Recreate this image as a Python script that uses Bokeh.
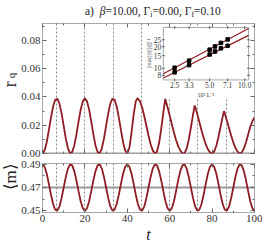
import math
from bokeh.plotting import figure
from bokeh.models import (Range1d, FixedTicker, PrintfTickFormatter, LinearAxis,
                          Div, LogScale, CustomJSTickFormatter)
from bokeh.core.properties import value
from bokeh.layouts import column, row
from bokeh.embed import file_html
from bokeh.resources import INLINE

# ---------------- data ----------------
title_html = ('a)&nbsp;&nbsp;<i>β</i>=10.00, Γ<span style="font-size:8px;vertical-align:-2px">i</span>'
              '=0.00, Γ<span style="font-size:8px;vertical-align:-2px">f</span>=0.10')

t_r = [0, 1, 2, 3, 4, 5, 6, 7, 8, 9, 10, 11, 12, 13, 14, 15, 16, 17, 18, 19, 20,
       21, 22, 23, 24, 25, 26, 27, 28, 29, 30, 31, 32, 33, 34, 35, 36, 37, 38, 39, 40,
       41, 42, 43, 44, 44.7, 45, 46, 47, 48, 49, 50, 51, 52, 53, 53.3,
       54, 55, 56, 57, 57.9, 58, 59, 60, 61, 62, 63, 64, 65, 66, 66.7,
       67, 68, 69, 70, 71, 71.8, 72, 73, 74, 75, 76, 77, 78, 79, 80,
       81, 82, 83, 84, 85, 85.6, 86, 87, 88, 89, 90, 91, 92, 93, 93.3,
       94, 95, 96, 97, 98, 99, 100]
r_q = [0.0, 0.0021, 0.0080, 0.0165, 0.0255, 0.0333, 0.0380, 0.0388, 0.0353, 0.0284, 0.0195,
       0.0106, 0.0037, 0.0002, 0.0010, 0.0057, 0.0135, 0.0225, 0.0310, 0.0369, 0.0390,
       0.0369, 0.0310, 0.0225, 0.0135, 0.0057, 0.0010, 0.0002, 0.0037, 0.0106, 0.0195,
       0.0284, 0.0353, 0.0388, 0.0380, 0.0333, 0.0255, 0.0165, 0.0080, 0.0021, 0.0,
       0.0042, 0.0150, 0.0277, 0.0369, 0.0390, 0.0389, 0.0369, 0.0325, 0.0265, 0.0196,
       0.0127, 0.0066, 0.0022, 0.0001, 0.0,
       0.0013, 0.0074, 0.0175, 0.0290, 0.0386, 0.0381, 0.0327, 0.0268, 0.0207, 0.0148,
       0.0096, 0.0052, 0.0021, 0.0003, 0.0,
       0.0002, 0.0034, 0.0098, 0.0184, 0.0274, 0.0340, 0.0330, 0.0279, 0.0222, 0.0165,
       0.0112, 0.0066, 0.0030, 0.0008, 0.0,
       0.0014, 0.0055, 0.0117, 0.0189, 0.0261, 0.0300, 0.0282, 0.0232, 0.0179, 0.0126,
       0.0079, 0.0040, 0.0013, 0.0001, 0.0,
       0.0008, 0.0035, 0.0080, 0.0135, 0.0188, 0.0228, 0.0255]

t_m = list(range(0, 101))
m_avg = [0.4900, 0.4878, 0.4818, 0.4731, 0.4638, 0.4559, 0.4510, 0.4502, 0.4538, 0.4609,
         0.4700, 0.4791, 0.4862, 0.4898, 0.4890, 0.4841, 0.4762, 0.4669, 0.4582, 0.4522,
         0.4500, 0.4522, 0.4582, 0.4669, 0.4762, 0.4841, 0.4890, 0.4898, 0.4862, 0.4791,
         0.4700, 0.4609, 0.4538, 0.4502, 0.4510, 0.4559, 0.4638, 0.4731, 0.4818, 0.4878,
         0.4900, 0.4878, 0.4818, 0.4731, 0.4638, 0.4559, 0.4510, 0.4502, 0.4538, 0.4609,
         0.4700, 0.4791, 0.4862, 0.4898, 0.4890, 0.4841, 0.4762, 0.4669, 0.4582, 0.4522,
         0.4500, 0.4522, 0.4582, 0.4669, 0.4762, 0.4841, 0.4890, 0.4898, 0.4862, 0.4791,
         0.4700, 0.4609, 0.4538, 0.4502, 0.4510, 0.4559, 0.4638, 0.4731, 0.4818, 0.4878,
         0.4900, 0.4878, 0.4818, 0.4731, 0.4638, 0.4559, 0.4510, 0.4502, 0.4538, 0.4609,
         0.4700, 0.4791, 0.4862, 0.4898, 0.4890, 0.4841, 0.4762, 0.4669, 0.4582, 0.4522,
         0.4500]

marker_t = [6.67, 20.0, 33.33, 46.67, 60.0, 73.33, 86.67]
r_baseline = [0.0]
m_reference = [0.47]

x_ticks = [0, 20, 40, 60, 80, 100]
x_minor = [10, 30, 50, 70, 90]
r_ticks = [0.0, 0.02, 0.04, 0.06, 0.08]
r_minor = [0.01, 0.03, 0.05, 0.07, 0.09]
m_ticks = [0.45, 0.47, 0.49]
m_minor = [0.46, 0.48]

inv_L = [2.5, 3.33, 5.0, 5.56, 6.25, 7.14]
inv_max_upper = [10.2, 12.8, 18.2, 20.2, 22.6, 25.3]
inv_max_lower = [8.8, 11.1, 15.6, 17.2, 19.0, 20.6]
fit_x = [2.0, 10.8]
fit_upper = [8.4, 35.9]
fit_lower = [7.35, 28.8]
inset_x_ticks = [2.5, 3.33, 5.0, 7.14, 10.0]
inset_x_labels = ["2.5", "3.3", "5.0", "7.1", "10.0"]
inset_y_ticks = [8, 10, 15, 20, 25]
inset_y_labels = ["8", "10", "15", "20", "25"]
inset_x_range = (2.0, 10.8)
inset_y_range = (6.9, 37.0)
inset_x_title = "10³ L⁻¹"
inset_y_title = "[max[|r(t)|]]⁻¹"

# ---------------- layout constants ----------------
T_RANGE = (0, 100)
R_RANGE = (0, 0.092)
M_RANGE = (0.4486, 0.4906)
BOX_FX = (0.570, 0.972)     # inset box as fractions of the top frame
BOX_FY = (0.566, 0.969)
BG_FX = (0.486, 0.988)      # white area behind inset incl. its labels
BG_FY = (0.426, 0.969)
LAB_W = 18                  # width of the strip holding the rotated y labels
H1, H2 = 134, 88

SERIF = "Liberation Serif"
RED = "#8e1c22"
FRAME = "#a8a8a8"
TICK = "#666666"
LABEL = "#333333"
DASH = "#6a6a6a"

blank = CustomJSTickFormatter(code="return ''")


def style_axis(ax, ticks, minor, show=True, size="11px"):
    ax.ticker = FixedTicker(ticks=ticks, minor_ticks=minor)
    ax.axis_line_color = None
    ax.major_tick_in = 4
    ax.major_tick_out = 0
    ax.minor_tick_in = 2
    ax.minor_tick_out = 0
    ax.major_tick_line_color = TICK
    ax.minor_tick_line_color = TICK
    ax.major_label_text_font = SERIF
    ax.major_label_text_color = LABEL
    ax.major_label_standoff = 2
    ax.major_label_text_font_size = size
    if not show:
        ax.formatter = blank
        ax.major_label_standoff = 0


def base_fig(h, yr, top, bottom):
    p = figure(width=262 - LAB_W, height=h, x_range=Range1d(*T_RANGE), y_range=Range1d(*yr),
               output_backend="svg", toolbar_location=None,
               min_border_left=22, min_border_right=8,
               min_border_top=top, min_border_bottom=bottom,
               background_fill_color="white", border_fill_color="white",
               outline_line_color=FRAME)
    p.grid.visible = False
    return p


def label_fig(h):
    f = figure(width=LAB_W, height=h, x_range=Range1d(0, LAB_W), y_range=Range1d(0, h),
               output_backend="svg", toolbar_location=None, min_border=0,
               x_axis_location=None, y_axis_location=None, outline_line_color=None,
               background_fill_color="white", border_fill_color="white")
    f.grid.visible = False
    return f


def log_range_for(lo, hi, f0, f1):
    a, b = math.log10(lo), math.log10(hi)
    span = (b - a) / (f1 - f0)
    start = a - f0 * span
    return Range1d(10 ** start, 10 ** (start + span))


def lin(rng, f):
    return rng[0] + (rng[1] - rng[0]) * f


# ---------------- top panel ----------------
p1 = base_fig(H1, R_RANGE, 0, 4)
p1.vspan(x=marker_t, line_color=DASH, line_width=0.8, line_dash="2 2")
p1.hspan(y=r_baseline, line_color="#9a9a9a", line_width=2)
p1.line(t_r, r_q, line_color=RED, line_width=1.8)
style_axis(p1.xaxis[0], x_ticks, x_minor, show=False)
style_axis(p1.yaxis[0], r_ticks, r_minor)
p1.yaxis[0].formatter = PrintfTickFormatter(format="%.2f")
ax_top = LinearAxis()
style_axis(ax_top, x_ticks, x_minor, show=False)
p1.add_layout(ax_top, "above")
ax_r = LinearAxis()
style_axis(ax_r, r_ticks, r_minor, show=False)
p1.add_layout(ax_r, "right")

# ---------------- inset drawn in the top panel through its own log scales ----------------
p1.extra_x_ranges = {"inx": log_range_for(*inset_x_range, *BOX_FX)}
p1.extra_x_scales = {"inx": LogScale()}
p1.extra_y_ranges = {"iny": log_range_for(*inset_y_range, *BOX_FY)}
p1.extra_y_scales = {"iny": LogScale()}
IN = dict(x_range_name="inx", y_range_name="iny")

p1.quad(left=[lin(T_RANGE, BG_FX[0])], right=[lin(T_RANGE, BG_FX[1])],
        bottom=[lin(R_RANGE, BG_FY[0])], top=[lin(R_RANGE, BG_FY[1])],
        fill_color="white", line_color=None)
p1.quad(left=[inset_x_range[0]], right=[inset_x_range[1]],
        bottom=[inset_y_range[0]], top=[inset_y_range[1]],
        fill_color="white", line_color=FRAME, line_width=1, **IN)
p1.line(fit_x, fit_upper, line_color=RED, line_width=1.2, **IN)
p1.line(fit_x, fit_lower, line_color=RED, line_width=1.2, **IN)
p1.scatter(inv_L, inv_max_upper, marker="square", size=3.5, color="black", **IN)
p1.scatter(inv_L, inv_max_lower, marker="square", size=3.5, color="black", **IN)
for yb in inset_y_range:
    p1.scatter(inset_x_ticks, [yb] * len(inset_x_ticks), marker="dash", angle=math.pi / 2,
               size=3, line_color=TICK, **IN)
for xb in inset_x_range:
    p1.scatter([xb] * len(inset_y_ticks), inset_y_ticks, marker="dash",
               size=3, line_color=TICK, **IN)
p1.text(x=inset_x_ticks, y=[inset_y_range[0]] * len(inset_x_ticks), text=inset_x_labels,
        y_offset=2, text_align="center", text_baseline="top", text_font=value(SERIF),
        text_font_size=value("7.5px"), text_color=LABEL, **IN)
p1.text(x=[inset_x_range[0]] * len(inset_y_ticks), y=inset_y_ticks, text=inset_y_labels,
        x_offset=-2, text_align="right", text_baseline="middle", text_font=value(SERIF),
        text_font_size=value("7.5px"), text_color=LABEL, **IN)
p1.text(x=[math.sqrt(inset_x_range[0] * inset_x_range[1])], y=[inset_y_range[0]],
        text=[inset_x_title], y_offset=12, text_align="center", text_baseline="top",
        text_font=value(SERIF), text_font_size=value("6px"), text_color=LABEL, **IN)
p1.text(x=[inset_x_range[0]], y=[math.sqrt(inset_y_range[0] * inset_y_range[1])],
        text=[inset_y_title], x_offset=-14, angle=math.pi / 2, text_align="center",
        text_baseline="middle", text_font=value(SERIF), text_font_size=value("5.5px"),
        text_color=LABEL, **IN)

# ---------------- bottom panel ----------------
p2 = base_fig(H2, M_RANGE, 6, 30)
p2.vspan(x=marker_t, line_color=DASH, line_width=0.8, line_dash="2 2")
p2.hspan(y=m_reference, line_color="#9a9a9a", line_width=2)
p2.line(t_m, m_avg, line_color=RED, line_width=1.8)
style_axis(p2.xaxis[0], x_ticks, x_minor)
style_axis(p2.yaxis[0], m_ticks, m_minor)
p2.yaxis[0].formatter = PrintfTickFormatter(format="%.2f")
p2.xaxis[0].axis_label = "t"
p2.xaxis[0].axis_label_text_font = SERIF
p2.xaxis[0].axis_label_text_font_style = "italic"
p2.xaxis[0].axis_label_text_font_size = "16px"
p2.xaxis[0].axis_label_text_color = "#222222"
p2.xaxis[0].axis_label_standoff = 1
ax_t2 = LinearAxis()
style_axis(ax_t2, x_ticks, x_minor, show=False)
p2.add_layout(ax_t2, "above")
ax_r2 = LinearAxis()
style_axis(ax_r2, m_ticks, m_minor, show=False)
p2.add_layout(ax_r2, "right")

# ---------------- rotated y labels in narrow strips ----------------
lab1 = label_fig(H1)
lab1.text(x=[9.5], y=[71.5], text=["r"], angle=math.pi / 2, text_align="center",
          text_baseline="middle", text_font=value(SERIF), text_font_size=value("18px"),
          text_color="#222222")
lab1.text(x=[10], y=[80.5], text=["q"], angle=math.pi / 2, text_align="center",
          text_baseline="middle", text_font=value(SERIF), text_font_size=value("11px"),
          text_color="#222222")
lab2 = label_fig(H2)
lab2.text(x=[9.5], y=[64], text=["⟨m⟩"], angle=math.pi / 2, text_align="center",
          text_baseline="middle", text_font=value(SERIF), text_font_size=value("17px"),
          text_color="#222222")

title = Div(text='<div style="padding-left:80px;white-space:nowrap">' + title_html + '</div>',
            width=262, height=13,
            styles={"font-family": "'Liberation Serif', serif", "font-size": "11.5px",
                    "line-height": "13px", "color": "#222222"})

layout = column(title, row(lab1, p1), row(lab2, p2))
open("out.html", "w").write(file_html(layout, INLINE))
